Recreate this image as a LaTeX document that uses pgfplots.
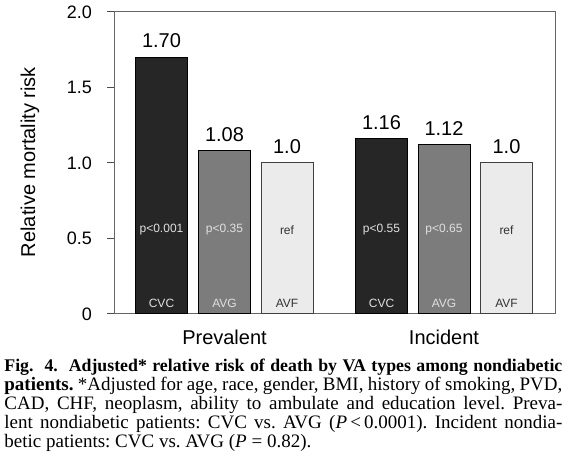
\documentclass[border=0pt]{standalone}
\usepackage{fontspec}
\setmainfont{Liberation Serif}
\setsansfont{Liberation Sans}
\usepackage{pgfplots}
\pgfplotsset{compat=1.18}
\definecolor{cvc}{HTML}{262626}
\definecolor{avg}{HTML}{7C7C7C}
\definecolor{avf}{HTML}{EBEBEB}
\begin{document}
\frenchspacing
\begin{tikzpicture}
\path[use as bounding box] (0,0) rectangle (284pt,232pt);
\begin{axis}[
  at={(57pt,75pt)}, anchor=south west,
  scale only axis, width=220.5pt, height=151pt,
  xmin=0, xmax=7.056, ymin=0, ymax=2,
  ytick={0,0.5,1,1.5,2},
  yticklabels={0,0.5,1.0,1.5,2.0},
  xtick=\empty,
  ytick pos=left,
  tick align=outside,
  ytick style={draw=black!70, line width=0.5pt},
  major tick length=3.5pt,
  axis line style={black!60, line width=0.5pt},
  /pgf/number format/assume math mode=true,
  yticklabel style={font=\sffamily\fontsize{9}{10}\selectfont, xshift=-4pt},
  ybar, bar width=26pt, bar shift=0pt,
  nodes near coords, point meta=explicit symbolic,
  nodes near coords style={font=\sffamily\fontsize{10}{11}\selectfont, anchor=south, yshift=1pt, text=black},
  clip=false,
]
\addplot[fill=cvc, draw=black, line width=0.5pt] coordinates {(0.76,1.70)[1.70] (4.28,1.16)[1.16]};
\addplot[fill=avg, draw=black, line width=0.5pt] coordinates {(1.768,1.08)[1.08] (5.28,1.12)[1.12]};
\addplot[fill=avf, draw=black!75, line width=0.5pt] coordinates {(2.768,1.0)[1.0] (6.28,1.0)[1.0]};

\begin{scope}[every node/.style={font=\sffamily\fontsize{6}{7}\selectfont}]
\node[text=white!88!black] at (axis cs:0.76,0.556) {p<0.001};
\node[text=white!88!black] at (axis cs:1.768,0.556) {p<0.35};
\node[text=black!80] at (axis cs:2.768,0.556) {ref};
\node[text=white!88!black] at (axis cs:4.28,0.556) {p<0.55};
\node[text=white!88!black] at (axis cs:5.28,0.556) {p<0.65};
\node[text=black!80] at (axis cs:6.28,0.556) {ref};
\node[text=white!88!black] at (axis cs:0.76,0.073) {CVC};
\node[text=white!88!black] at (axis cs:1.768,0.073) {AVG};
\node[text=black!80] at (axis cs:2.768,0.073) {AVF};
\node[text=white!88!black] at (axis cs:4.28,0.073) {CVC};
\node[text=white!88!black] at (axis cs:5.28,0.073) {AVG};
\node[text=black!80] at (axis cs:6.28,0.073) {AVF};
\end{scope}
\node[font=\sffamily\fontsize{10}{12}\selectfont, anchor=base] at (axis cs:1.768,-0.205) {Prevalent};
\node[font=\sffamily\fontsize{10}{12}\selectfont, anchor=base] at (axis cs:5.28,-0.205) {Incident};
\end{axis}
\node[rotate=90, font=\sffamily\fontsize{10}{12}\selectfont] at (15pt,151pt) {Relative mortality risk};
\node[anchor=north west, inner sep=0pt, text width=279pt, align=justify,
      font=\fontsize{9.5}{9.45}\selectfont] at (2pt,52.5pt)
{{\fontsize{8.9}{9.45}\selectfont\textbf{Fig.\ \ 4.\ \ Adjusted* relative risk of death by VA types among nondiabetic}}\linebreak
\textbf{patients.} *Adjusted for age, race, gender, BMI, history of smoking, PVD,\linebreak
CAD, CHF, neoplasm, ability to ambulate and education level. Preva-\linebreak
lent nondiabetic patients: CVC vs. AVG (\textit{P}\,<\,0.0001). Incident nondia-\linebreak
betic patients: CVC vs. AVG (\textit{P} = 0.82).};
\end{tikzpicture}
\end{document}
